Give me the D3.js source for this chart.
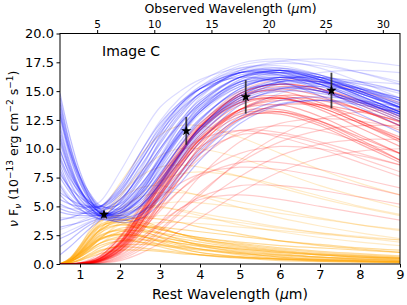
<!DOCTYPE html>
<html>
<head>
<meta charset="utf-8">
<script src="https://cdn.jsdelivr.net/npm/d3@7"></script>
<style>
  body { margin: 0; background: #fff; }
  svg { display: block; font-family: "DejaVu Sans", sans-serif; }
  .tick line { stroke: #000; }
  .domain { display: none; }
</style>
</head>
<body>
<div id="container"></div>
<script>
const WIDTH = 407;
const HEIGHT = 305;
const LEFT = 60, RIGHT = 400, TOP = 33.5, BOTTOM = 264;
const REDSHIFT = 2.5;

// rest wavelength grid that every model curve is sampled on
var waveGrid = [0.5, 0.75, 1, 1.25, 1.5, 2, 2.5, 3, 3.5, 4, 5, 6, 7, 8, 9];

// blue models (dense)
var blueCurves = [
    [14.8, 11.0, 8.0, 6.0, 4.8, 4.2, 5.0, 7.0, 9.5, 11.8, 14.6, 15.8, 15.8, 15.2, 14.4],
    [13.5, 9.8, 7.2, 5.6, 4.6, 4.4, 5.6, 7.8, 10.3, 12.5, 15.2, 16.2, 16.0, 15.3, 14.4],
    [12.0, 8.8, 6.6, 5.2, 4.4, 4.0, 4.9, 6.7, 9.0, 11.2, 14.0, 15.0, 14.8, 14.0, 13.0],
    [10.5, 8.0, 6.2, 5.0, 4.3, 4.3, 5.8, 8.4, 11.0, 13.2, 15.8, 16.6, 16.2, 15.2, 14.0],
    [9.0, 7.0, 5.6, 4.8, 4.3, 4.6, 6.2, 8.8, 11.4, 13.4, 15.6, 16.0, 15.2, 14.0, 12.6],
    [7.5, 6.2, 5.2, 4.6, 4.2, 4.5, 5.6, 7.6, 9.8, 11.8, 14.4, 15.3, 15.0, 14.1, 13.0],
    [6.0, 5.2, 4.7, 4.4, 4.2, 4.6, 6.0, 8.2, 10.6, 12.6, 15.0, 15.6, 15.0, 13.8, 12.4],
    [4.5, 4.3, 4.2, 4.2, 4.2, 4.8, 6.4, 8.8, 11.2, 13.2, 15.4, 16.0, 15.4, 14.3, 13.0],
    [3.2, 3.4, 3.6, 3.9, 4.1, 5.0, 6.8, 9.2, 11.6, 13.6, 15.8, 16.4, 15.9, 14.8, 13.6],
    [2.2, 2.6, 3.1, 3.6, 4.0, 5.3, 7.4, 10.0, 12.4, 14.2, 16.2, 16.6, 16.0, 14.8, 13.5],
    [14.0, 10.2, 7.6, 5.8, 4.7, 4.0, 4.4, 5.8, 7.8, 9.8, 12.8, 14.2, 14.5, 14.2, 13.6],
    [11.2, 8.4, 6.5, 5.2, 4.5, 4.2, 5.2, 7.2, 9.6, 11.8, 14.8, 16.0, 16.2, 15.8, 15.0],
    [8.2, 6.5, 5.3, 4.6, 4.2, 4.1, 5.0, 6.9, 9.2, 11.4, 14.4, 15.6, 15.6, 14.9, 13.9],
    [13.0, 9.4, 7.0, 5.4, 4.4, 3.8, 4.2, 5.6, 7.5, 9.5, 12.5, 13.9, 14.2, 13.8, 13.1],
    [5.2, 4.8, 4.5, 4.3, 4.2, 4.4, 5.4, 7.3, 9.5, 11.6, 14.2, 15.2, 15.0, 14.2, 13.2],
    [10.0, 7.6, 6.0, 4.9, 4.3, 4.4, 6.0, 8.8, 11.6, 13.8, 16.2, 16.8, 16.2, 15.0, 13.6],
    [0.8, 1.5, 2.3, 3.1, 3.8, 5.0, 6.8, 9.0, 11.3, 13.2, 15.6, 16.2, 15.6, 14.5, 13.2],
    [12.8, 9.6, 7.4, 5.9, 5.0, 5.2, 7.2, 9.8, 12.2, 14.0, 16.2, 16.8, 16.2, 15.0, 13.6],
    [9.8, 7.8, 6.4, 5.4, 4.8, 5.6, 7.8, 10.4, 12.8, 14.6, 16.6, 17.0, 16.4, 15.2, 13.8],
    [7.8, 6.6, 5.8, 5.2, 4.9, 6.0, 8.4, 11.0, 13.2, 14.8, 16.6, 16.8, 16.0, 14.6, 13.2],
    [5.6, 5.2, 5.0, 4.9, 5.0, 6.4, 8.8, 11.4, 13.4, 14.8, 16.4, 16.6, 15.8, 14.6, 13.2],
    [3.8, 4.0, 4.3, 4.6, 4.9, 6.6, 9.2, 11.8, 13.8, 15.2, 16.6, 16.6, 15.6, 14.2, 12.8],
    [14.4, 10.4, 7.6, 5.6, 4.4, 3.6, 3.9, 5.2, 7.0, 9.0, 12.2, 13.8, 14.2, 14.0, 13.4],
    [11.6, 8.6, 6.4, 5.0, 4.1, 3.7, 4.4, 6.2, 8.4, 10.6, 13.8, 15.2, 15.4, 15.0, 14.2],
    [8.6, 6.6, 5.2, 4.4, 3.9, 3.9, 5.0, 7.0, 9.4, 11.6, 14.6, 15.8, 15.8, 15.2, 14.2],
    [6.8, 5.6, 4.8, 4.2, 3.9, 4.2, 5.6, 7.8, 10.2, 12.4, 15.2, 16.2, 15.8, 14.8, 13.6],
    [1.5, 2.1, 2.8, 3.4, 3.9, 5.4, 7.8, 10.6, 13.0, 14.8, 16.6, 16.8, 16.0, 14.6, 13.2],
    [13.2, 9.8, 7.6, 6.1, 5.1, 4.8, 6.2, 8.6, 11.2, 13.4, 16.0, 16.8, 16.4, 15.4, 14.2],
    [10.8, 8.2, 6.4, 5.2, 4.5, 4.6, 6.4, 9.2, 12.0, 14.0, 16.2, 16.4, 15.6, 14.2, 12.8],
    [4.8, 4.5, 4.4, 4.4, 4.5, 5.6, 7.6, 10.0, 12.2, 13.8, 15.8, 16.2, 15.6, 14.4, 13.0],
    [9.2, 7.4, 6.2, 5.4, 5.0, 6.2, 8.8, 11.6, 13.8, 15.2, 16.6, 16.4, 15.2, 13.6, 12.0],
    [6.2, 5.6, 5.2, 5.0, 5.0, 6.8, 9.6, 12.2, 14.0, 15.2, 16.2, 15.8, 14.6, 13.0, 11.4]
];

// blue models (faint outliers)
var blueFaint = [
    [12.5, 9.2, 7.0, 5.6, 4.8, 5.2, 7.4, 10.8, 13.4, 15.2, 17.0, 17.2, 16.4, 15.0, 13.6],
    [6.5, 5.6, 5.0, 4.7, 4.6, 5.8, 8.2, 11.2, 13.8, 15.4, 17.2, 17.6, 17.0, 15.8, 14.4],
    [3.0, 3.3, 3.7, 4.1, 4.4, 6.2, 9.0, 12.0, 14.0, 15.4, 16.8, 16.8, 16.0, 14.8, 13.5],
    [13.8, 10.0, 7.4, 5.6, 4.5, 4.0, 4.8, 6.6, 8.8, 11.0, 14.2, 15.8, 16.6, 16.8, 16.6],
    [9.5, 7.2, 5.7, 4.8, 4.2, 3.9, 4.5, 6.0, 8.0, 10.0, 13.2, 14.8, 15.6, 15.8, 15.6],
    [7.0, 5.8, 5.0, 4.5, 4.3, 4.8, 6.6, 9.4, 12.2, 14.4, 16.8, 17.4, 17.2, 16.6, 15.8],
    [4.0, 4.0, 4.0, 4.1, 4.2, 4.7, 6.0, 8.0, 10.2, 12.2, 14.8, 15.8, 16.0, 15.6, 15.0],
    [5.0, 4.8, 4.8, 5.0, 5.4, 8.0, 11.0, 13.6, 15.0, 16.0, 17.0, 17.0, 16.2, 15.0, 13.8],
    [2.5, 2.9, 3.3, 3.7, 4.0, 4.9, 6.6, 8.8, 11.0, 13.0, 15.4, 16.2, 16.2, 15.6, 14.8],
    [11.0, 8.2, 6.4, 5.2, 4.6, 5.4, 8.0, 11.2, 13.6, 15.2, 16.8, 17.6, 17.8, 17.6, 17.2],
    [8.0, 6.4, 5.4, 4.9, 4.7, 6.4, 9.6, 12.4, 14.4, 15.8, 17.4, 17.8, 17.4, 16.6, 15.6]
];

// red models (dense)
var redCurves = [
    [0, 0, 0.05, 0.2, 0.5, 1.8, 4.2, 7.0, 9.6, 11.6, 14.0, 14.4, 13.4, 11.8, 10.2],
    [0, 0, 0.02, 0.1, 0.3, 1.3, 3.4, 6.0, 8.6, 10.8, 13.4, 14.2, 13.8, 12.8, 11.6],
    [0, 0.02, 0.1, 0.3, 0.7, 2.3, 4.8, 7.6, 10.2, 12.2, 14.6, 15.0, 14.0, 12.4, 10.8],
    [0, 0, 0.02, 0.08, 0.25, 1.1, 3.0, 5.4, 7.9, 10.0, 12.6, 13.2, 12.4, 11.0, 9.6],
    [0, 0, 0.05, 0.15, 0.45, 1.7, 4.0, 6.8, 9.5, 11.8, 14.8, 15.6, 15.2, 14.0, 12.6],
    [0, 0, 0.03, 0.1, 0.35, 1.5, 3.6, 6.2, 8.8, 10.8, 13.0, 13.2, 12.2, 10.6, 9.0],
    [0, 0.02, 0.08, 0.25, 0.6, 2.0, 4.4, 7.2, 9.8, 11.8, 14.0, 14.4, 13.6, 12.2, 10.8],
    [0, 0, 0.02, 0.06, 0.2, 0.9, 2.6, 4.9, 7.4, 9.6, 12.6, 13.8, 13.8, 13.2, 12.4],
    [0, 0, 0.04, 0.12, 0.4, 1.6, 3.9, 6.7, 9.4, 11.6, 14.4, 15.2, 14.6, 13.4, 12.0],
    [0, 0, 0.03, 0.1, 0.3, 1.4, 3.5, 6.1, 8.7, 10.8, 13.2, 13.4, 12.4, 10.8, 9.0],
    [0, 0.01, 0.06, 0.2, 0.5, 1.9, 4.3, 7.1, 9.7, 11.9, 14.6, 15.4, 15.0, 13.8, 12.4],
    [0, 0, 0.02, 0.08, 0.25, 1.2, 3.2, 5.8, 8.4, 10.6, 13.4, 14.4, 14.2, 13.4, 12.3],
    [0, 0, 0.03, 0.12, 0.35, 1.5, 3.7, 6.4, 9.0, 11.2, 13.8, 14.4, 13.6, 12.2, 10.6],
    [0, 0.01, 0.05, 0.18, 0.5, 1.9, 4.5, 7.4, 10.0, 12.0, 14.2, 14.6, 13.8, 12.4, 11.0],
    [0, 0, 0.02, 0.07, 0.22, 1.0, 2.8, 5.2, 7.8, 10.2, 13.4, 14.6, 14.4, 13.4, 12.0],
    [0, 0, 0.04, 0.14, 0.42, 1.7, 4.0, 6.6, 9.0, 11.0, 13.4, 13.8, 12.8, 11.2, 9.6],
    [0, 0.01, 0.04, 0.16, 0.46, 1.8, 4.1, 6.9, 9.6, 11.9, 14.8, 15.6, 15.2, 14.2, 12.8],
    [0, 0, 0.03, 0.11, 0.33, 1.4, 3.4, 5.9, 8.4, 10.5, 12.8, 13.0, 12.0, 10.4, 8.8]
];

// red models (faint, lower)
var redFaint = [
    [0, 0, 0.02, 0.1, 0.3, 1.2, 2.8, 4.6, 6.4, 7.8, 9.6, 10.2, 10.0, 9.4, 8.6],
    [0, 0, 0.04, 0.15, 0.4, 1.4, 3.0, 4.8, 6.4, 7.6, 8.8, 8.8, 8.2, 7.4, 6.6],
    [0, 0, 0.01, 0.04, 0.12, 0.6, 1.6, 3.0, 4.6, 6.2, 8.8, 10.6, 11.6, 12.0, 12.0],
    [0, 0, 0.01, 0.03, 0.08, 0.4, 1.2, 2.4, 3.8, 5.2, 7.6, 9.4, 10.4, 10.8, 10.8],
    [0, 0, 0.03, 0.1, 0.3, 1.2, 3.0, 5.2, 7.4, 9.2, 11.4, 12.0, 11.6, 10.6, 9.6],
    [0, 0, 0.02, 0.06, 0.2, 0.8, 2.0, 3.4, 4.8, 5.8, 6.8, 6.8, 6.4, 5.8, 5.2],
    [0, 0, 0.01, 0.02, 0.06, 0.3, 0.9, 1.8, 2.9, 4.0, 6.2, 8.0, 9.2, 9.8, 10.0],
    [0, 0, 0.05, 0.18, 0.5, 1.8, 3.8, 6.0, 8.0, 9.6, 11.2, 11.2, 10.4, 9.2, 8.0],
    [0, 0, 0.01, 0.05, 0.15, 0.7, 1.9, 3.6, 5.6, 7.6, 10.6, 12.2, 12.6, 12.4, 11.8],
    [0, 0, 0.03, 0.1, 0.3, 1.0, 2.2, 3.6, 4.8, 5.6, 6.0, 5.6, 5.0, 4.4, 3.8],
    [0, 0.01, 0.06, 0.2, 0.6, 2.4, 5.0, 7.6, 9.6, 10.8, 11.6, 11.0, 10.0, 8.8, 7.6],
    [0, 0, 0.02, 0.08, 0.25, 1.2, 3.4, 6.4, 9.4, 12.0, 15.0, 16.0, 15.8, 15.0, 14.0],
    [0, 0.02, 0.12, 0.4, 0.9, 2.4, 4.2, 5.8, 7.0, 7.8, 8.4, 8.2, 7.6, 6.8, 6.0],
    [0, 0, 0.01, 0.03, 0.1, 0.5, 1.4, 2.8, 4.4, 6.0, 9.0, 11.2, 12.6, 13.2, 13.4],
    [0, 0.01, 0.08, 0.3, 0.7, 2.2, 4.4, 6.8, 8.8, 10.2, 11.6, 11.4, 10.6, 9.6, 8.6]
];

// orange models (dense, low)
var orangeCurves = [
    [0, 0.3, 1.0, 1.9, 2.7, 3.4, 3.3, 3.0, 2.6, 2.3, 1.8, 1.4, 1.1, 0.9, 0.7],
    [0, 0.2, 0.7, 1.4, 2.1, 2.8, 2.9, 2.7, 2.4, 2.1, 1.7, 1.3, 1.0, 0.8, 0.6],
    [0, 0.4, 1.3, 2.4, 3.2, 3.8, 3.6, 3.1, 2.6, 2.2, 1.6, 1.2, 0.9, 0.7, 0.5],
    [0, 0.1, 0.4, 0.9, 1.4, 2.0, 2.1, 2.0, 1.8, 1.6, 1.3, 1.0, 0.8, 0.6, 0.5],
    [0, 0.3, 0.9, 1.7, 2.4, 3.1, 3.2, 3.2, 3.0, 2.8, 2.4, 2.0, 1.7, 1.4, 1.2],
    [0, 0.5, 1.5, 2.6, 3.4, 3.9, 3.4, 2.7, 2.1, 1.6, 1.0, 0.6, 0.4, 0.3, 0.2],
    [0, 0.2, 0.6, 1.2, 1.8, 2.4, 2.5, 2.3, 2.0, 1.7, 1.2, 0.9, 0.6, 0.4, 0.3],
    [0, 0.3, 1.1, 2.0, 2.9, 3.8, 4.0, 3.9, 3.6, 3.2, 2.6, 2.0, 1.6, 1.3, 1.0],
    [0, 0.1, 0.3, 0.7, 1.1, 1.6, 1.7, 1.6, 1.4, 1.2, 0.9, 0.7, 0.5, 0.4, 0.3],
    [0, 0.4, 1.2, 2.2, 3.0, 3.6, 3.4, 3.0, 2.6, 2.3, 1.9, 1.6, 1.4, 1.2, 1.0],
    [0, 0.2, 0.8, 1.5, 2.2, 2.6, 2.4, 2.0, 1.6, 1.3, 0.9, 0.6, 0.4, 0.3, 0.2],
    [0, 0.3, 0.9, 1.6, 2.3, 3.0, 2.8, 2.4, 2.0, 1.7, 1.3, 1.0, 0.8, 0.6, 0.5],
    [0, 0.2, 0.7, 1.3, 1.8, 2.2, 1.9, 1.5, 1.1, 0.8, 0.5, 0.3, 0.2, 0.15, 0.1],
    [0, 0.3, 1.0, 1.8, 2.5, 2.9, 2.5, 1.9, 1.4, 1.0, 0.6, 0.4, 0.25, 0.18, 0.12],
    [0, 0.1, 0.4, 0.8, 1.2, 1.5, 1.4, 1.2, 1.0, 0.8, 0.55, 0.4, 0.3, 0.22, 0.16],
    [0, 0.4, 1.4, 2.5, 3.3, 3.6, 3.0, 2.3, 1.7, 1.3, 0.8, 0.5, 0.35, 0.25, 0.18],
    [0, 0.2, 0.6, 1.1, 1.6, 2.0, 1.9, 1.7, 1.5, 1.3, 1.0, 0.8, 0.6, 0.5, 0.4],
    [0, 0.3, 0.9, 1.6, 2.2, 2.6, 2.4, 2.1, 1.8, 1.5, 1.1, 0.8, 0.6, 0.45, 0.35],
    [0, 0.1, 0.3, 0.6, 0.9, 1.2, 1.2, 1.1, 0.9, 0.8, 0.6, 0.45, 0.35, 0.28, 0.22],
    [0, 0.5, 1.6, 2.8, 3.7, 4.2, 3.8, 3.2, 2.6, 2.1, 1.5, 1.1, 0.8, 0.6, 0.45],
    [0, 0.2, 0.8, 1.5, 2.1, 2.5, 2.2, 1.7, 1.3, 1.0, 0.65, 0.45, 0.3, 0.2, 0.15],
    [0, 0.3, 1.1, 2.1, 2.9, 3.4, 3.1, 2.6, 2.2, 1.9, 1.4, 1.1, 0.85, 0.7, 0.55]
];

// orange models (faint, higher)
var orangeFaint = [
    [0, 0.3, 1.0, 2.0, 3.0, 4.8, 5.8, 6.2, 6.2, 6.0, 5.4, 4.7, 4.0, 3.4, 2.9],
    [0, 0.2, 0.8, 1.6, 2.6, 4.4, 6.0, 7.2, 7.8, 8.0, 7.6, 6.8, 5.9, 5.0, 4.3],
    [0, 0.4, 1.3, 2.5, 3.6, 5.6, 6.6, 6.8, 6.4, 5.9, 4.9, 4.0, 3.3, 2.7, 2.2],
    [0, 0.3, 1.1, 2.2, 3.4, 5.8, 8.0, 9.4, 10.0, 10.0, 9.2, 8.0, 6.8, 5.8, 4.9],
    [0, 0.2, 0.7, 1.4, 2.2, 3.6, 4.6, 5.2, 5.4, 5.3, 4.9, 4.4, 3.9, 3.4, 3.0],
    [0, 0.3, 0.9, 1.8, 2.8, 4.2, 4.8, 4.9, 4.7, 4.4, 3.8, 3.2, 2.7, 2.3, 1.9],
    [0, 0.5, 1.6, 3.0, 4.4, 7.0, 9.4, 11.2, 12.0, 12.0, 11.0, 9.6, 8.2, 7.0, 6.0],
    [0, 0.2, 0.6, 1.2, 1.8, 2.8, 3.4, 3.6, 3.6, 3.5, 3.2, 2.9, 2.6, 2.3, 2.1],
    [0, 0.3, 1.0, 2.0, 3.0, 4.4, 5.0, 5.0, 4.6, 4.2, 3.4, 2.8, 2.3, 1.9, 1.6],
    [0, 0.4, 1.4, 2.6, 3.8, 6.0, 7.6, 8.4, 8.6, 8.4, 7.6, 6.6, 5.7, 4.9, 4.2],
    [0, 0.2, 0.7, 1.4, 2.2, 3.4, 4.0, 4.2, 4.2, 4.0, 3.6, 3.1, 2.7, 2.4, 2.1]
];

// photometry (rest wavelength, flux, error)
var photWave = [1.6, 3.657, 5.143, 7.286];
var photFlux = [4.3, 11.55, 14.5, 15.05];
var photErr = [0.3, 1.2, 1.45, 1.55];

var yTicks = [0, 2.5, 5, 7.5, 10, 12.5, 15, 17.5, 20];
var xTicks = [1, 2, 3, 4, 5, 6, 7, 8, 9];
var obsTicks = [5, 10, 15, 20, 25, 30];

var x = d3.scaleLinear().domain([0.5, 9]).range([LEFT, RIGHT]);
var xObs = d3.scaleLinear().domain([0.5 * (1 + REDSHIFT), 9 * (1 + REDSHIFT)]).range([LEFT, RIGHT]);
var y = d3.scaleLinear().domain([0, 20]).range([BOTTOM, TOP]);

var line = d3.line()
    .x(function (d, i) { return x(waveGrid[i]); })
    .y(function (d) { return y(d); })
    .curve(d3.curveCatmullRom.alpha(0.5));

var drawCurves = function (g, curves, color, opacity) {
    g.append("g")
        .selectAll("path")
        .data(curves)
        .enter().append("path")
        .attr("d", line)
        .attr("fill", "none")
        .attr("stroke", color)
        .attr("stroke-opacity", opacity)
        .attr("stroke-width", 1.2);
};

var drawChart = function () {
    var svg = d3.select("#container").append("svg")
        .attr("width", WIDTH)
        .attr("height", HEIGHT);

    svg.append("clipPath").attr("id", "plot")
        .append("rect")
        .attr("x", LEFT).attr("y", TOP)
        .attr("width", RIGHT - LEFT).attr("height", BOTTOM - TOP);

    var g = svg.append("g").attr("clip-path", "url(#plot)");

    drawCurves(g, orangeFaint, "orange", 0.22);
    drawCurves(g, orangeCurves, "orange", 0.4);
    drawCurves(g, redFaint, "red", 0.2);
    drawCurves(g, redCurves, "red", 0.32);
    drawCurves(g, blueFaint, "blue", 0.14);
    drawCurves(g, blueCurves, "blue", 0.26);

    // error bars and stars
    var pts = svg.append("g");
    photWave.forEach(function (w, i) {
        pts.append("line")
            .attr("x1", x(w)).attr("x2", x(w))
            .attr("y1", y(photFlux[i] - photErr[i]))
            .attr("y2", y(photFlux[i] + photErr[i]))
            .attr("stroke", "#222")
            .attr("stroke-opacity", 0.85)
            .attr("stroke-width", 1.8);
        pts.append("path")
            .attr("d", d3.symbol().type(d3.symbolStar).size(34)())
            .attr("transform", "translate(" + x(w) + "," + y(photFlux[i]) + ")")
            .attr("fill", "#000");
    });

    // frame
    svg.append("rect")
        .attr("x", LEFT).attr("y", TOP)
        .attr("width", RIGHT - LEFT).attr("height", BOTTOM - TOP)
        .attr("fill", "none")
        .attr("stroke", "#000")
        .attr("stroke-width", 1);

    svg.append("g")
        .attr("transform", "translate(0," + BOTTOM + ")")
        .call(d3.axisBottom(x).tickValues(xTicks).tickFormat(d3.format("d"))
            .tickSize(3.5).tickSizeOuter(0).tickPadding(2.5))
        .attr("font-size", 13)
        .attr("font-family", "DejaVu Sans");

    svg.append("g")
        .attr("transform", "translate(" + LEFT + ",0)")
        .call(d3.axisLeft(y).tickValues(yTicks).tickFormat(d3.format(".1f"))
            .tickSize(3.5).tickSizeOuter(0).tickPadding(2.5))
        .attr("font-size", 13)
        .attr("font-family", "DejaVu Sans");

    svg.append("g")
        .attr("transform", "translate(0," + TOP + ")")
        .call(d3.axisTop(xObs).tickValues(obsTicks).tickFormat(d3.format("d"))
            .tickSize(3.5).tickSizeOuter(0).tickPadding(2.5))
        .attr("font-size", 10.5)
        .attr("font-family", "DejaVu Sans");

    svg.selectAll(".tick text").attr("fill", "#000");

    // labels
    var bl = svg.append("text")
        .attr("x", (LEFT + RIGHT) / 2).attr("y", 299)
        .attr("text-anchor", "middle").attr("font-size", 14);
    bl.append("tspan").text("Rest Wavelength (");
    bl.append("tspan").attr("font-style", "italic").text("μ");
    bl.append("tspan").text("m)");

    var tl = svg.append("text")
        .attr("x", (LEFT + RIGHT) / 2 + 0.5).attr("y", 12.5)
        .attr("text-anchor", "middle").attr("font-size", 12.5);
    tl.append("tspan").text("Observed Wavelength (");
    tl.append("tspan").attr("font-style", "italic").text("μ");
    tl.append("tspan").text("m)");

    var yl = svg.append("text")
        .attr("transform", "translate(18," + ((TOP + BOTTOM) / 2) + ") rotate(-90)")
        .attr("text-anchor", "middle").attr("font-size", 12.5);
    yl.append("tspan").attr("font-style", "italic").text("ν");
    yl.append("tspan").text(" F");
    yl.append("tspan").attr("font-style", "italic").attr("font-size", 9).attr("dy", 3).text("ν");
    yl.append("tspan").attr("dy", -3).text(" (10");
    yl.append("tspan").attr("font-size", 9).attr("dy", -5).text("−13");
    yl.append("tspan").attr("dy", 5).text(" erg cm");
    yl.append("tspan").attr("font-size", 9).attr("dy", -5).text("−2");
    yl.append("tspan").attr("dy", 5).text(" s");
    yl.append("tspan").attr("font-size", 9).attr("dy", -5).text("−1");
    yl.append("tspan").attr("dy", 5).text(")");

    svg.append("text")
        .attr("x", 102).attr("y", 56)
        .attr("font-size", 14)
        .text("Image C");
};

window.onload = drawChart;
</script>
</body>
</html>
